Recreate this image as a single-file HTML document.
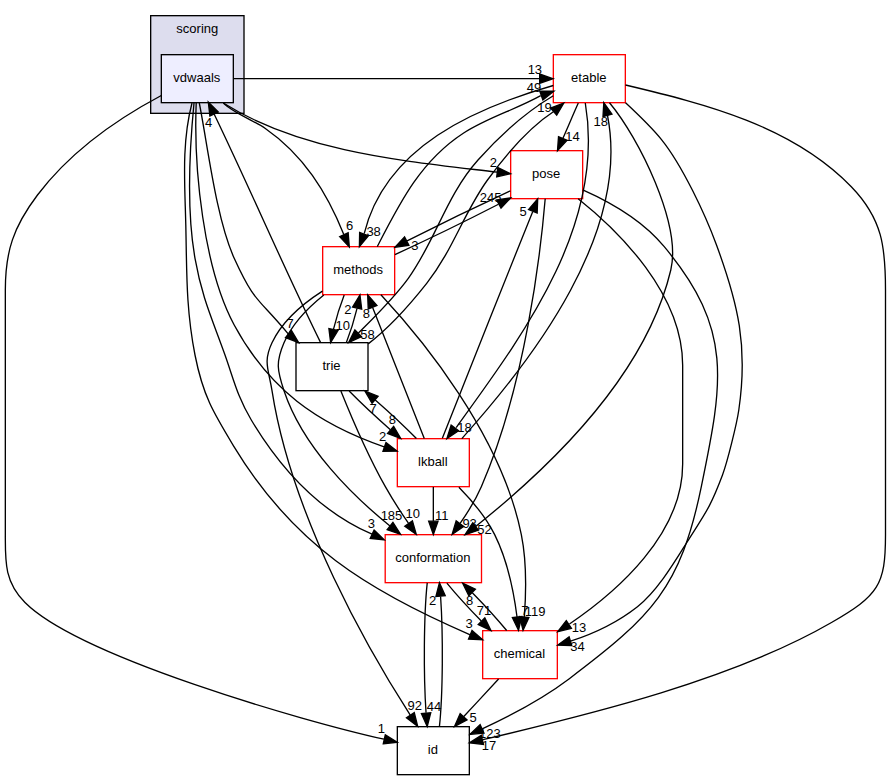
<!DOCTYPE html>
<html><head><meta charset="utf-8"><title>vdwaals</title>
<style>html,body{margin:0;padding:0;background:#fff}svg{display:block}text{font-family:"Liberation Sans",sans-serif;font-size:13px;fill:#000}</style></head>
<body>
<svg width="891" height="780" viewBox="0 0 891 780">
<rect width="891" height="780" fill="#fff"/>
<rect x="150.67" y="15.67" width="93.33" height="97.66" fill="#ddddee" stroke="#000" stroke-width="1.33"/>
<text x="197.33" y="33.00" text-anchor="middle">scoring</text>
<rect x="161.33" y="54.67" width="72.00" height="48.00" fill="#eeeeff" stroke="#000" stroke-width="1.33"/>
<text x="196.83" y="82.00" text-anchor="middle">vdwaals</text>
<rect x="385.20" y="534.67" width="96.30" height="48.00" fill="white" stroke="#f00" stroke-width="1.33"/>
<text x="432.85" y="562.00" text-anchor="middle">conformation</text>
<rect x="553.33" y="54.67" width="72.00" height="48.00" fill="white" stroke="#f00" stroke-width="1.33"/>
<text x="588.83" y="82.00" text-anchor="middle">etable</text>
<rect x="510.66" y="150.67" width="72.00" height="48.00" fill="white" stroke="#f00" stroke-width="1.33"/>
<text x="546.16" y="178.00" text-anchor="middle">pose</text>
<rect x="296.00" y="342.67" width="72.00" height="48.00" fill="#fff" stroke="#000" stroke-width="1.33"/>
<text x="331.50" y="370.00" text-anchor="middle">trie</text>
<rect x="482.67" y="630.67" width="74.66" height="48.00" fill="white" stroke="#f00" stroke-width="1.33"/>
<text x="519.50" y="658.00" text-anchor="middle">chemical</text>
<rect x="322.67" y="246.67" width="72.00" height="48.00" fill="white" stroke="#f00" stroke-width="1.33"/>
<text x="358.17" y="274.00" text-anchor="middle">methods</text>
<rect x="397.33" y="438.67" width="72.00" height="48.00" fill="white" stroke="#f00" stroke-width="1.33"/>
<text x="432.83" y="466.00" text-anchor="middle">lkball</text>
<rect x="397.33" y="726.67" width="72.00" height="48.00" fill="#fff" stroke="#000" stroke-width="1.33"/>
<text x="432.83" y="754.00" text-anchor="middle">id</text>
<path d="M194.00,103.00C189.35,150.87 186.60,210.81 195.00,258.30 202.02,297.95 212.11,318.74 225.00,355.00 233.80,379.75 237.40,396.82 251.30,420.00 280.03,467.91 319.84,511.72 372.00,534.23" fill="none" stroke="#000" stroke-width="1.33"/>
<polygon points="374.08,530.04 384.28,539.80 370.21,538.53" fill="#000" stroke="#000" stroke-width="1.33"/>
<text x="371.28" y="527.95" text-anchor="middle">3</text>
<path d="M233.40,78.67C330.00,78.67 440.00,78.67 539.70,78.67" fill="none" stroke="#000" stroke-width="1.33"/>
<polygon points="539.67,83.34 553.00,78.67 539.67,74.00" fill="#000" stroke="#000" stroke-width="1.33"/>
<text x="534.87" y="73.55" text-anchor="middle">13</text>
<path d="M223.30,103.00C302.58,152.67 406.83,161.26 497.20,172.20" fill="none" stroke="#000" stroke-width="1.33"/>
<polygon points="496.73,176.85 510.50,173.70 497.78,167.57" fill="#000" stroke="#000" stroke-width="1.33"/>
<text x="493.44" y="166.60" text-anchor="middle">2</text>
<path d="M199.30,103.00C207.85,146.57 216.30,218.99 234.20,258.30 254.89,303.75 257.77,297.17 288.20,333.90" fill="none" stroke="#000" stroke-width="1.33"/>
<polygon points="285.46,337.69 298.70,342.60 291.42,330.50" fill="#000" stroke="#000" stroke-width="1.33"/>
<text x="290.14" y="327.86" text-anchor="middle">7</text>
<path d="M192.00,103.00C181.40,143.74 184.88,183.86 185.80,225.00 186.85,271.96 185.89,308.67 195.00,355.00 202.98,395.58 213.15,412.27 234.13,446.87 293.17,544.25 367.49,590.60 470.27,634.77" fill="none" stroke="#000" stroke-width="1.33"/>
<polygon points="472.05,630.47 482.64,639.81 468.53,639.11" fill="#000" stroke="#000" stroke-width="1.33"/>
<text x="469.04" y="628.48" text-anchor="middle">3</text>
<path d="M223.30,103.00C232.96,112.67 254.01,120.66 265.00,128.30 303.47,155.04 326.57,191.93 343.80,234.50" fill="none" stroke="#000" stroke-width="1.33"/>
<polygon points="339.63,236.61 349.30,246.90 348.16,232.82" fill="#000" stroke="#000" stroke-width="1.33"/>
<text x="349.68" y="230.23" text-anchor="middle">6</text>
<path d="M196.20,103.00C193.59,167.56 203.37,267.74 234.20,325.00 268.69,389.06 316.97,423.60 384.16,446.80" fill="none" stroke="#000" stroke-width="1.33"/>
<polygon points="385.97,442.48 397.09,451.21 382.96,451.32" fill="#000" stroke="#000" stroke-width="1.33"/>
<text x="382.67" y="440.69" text-anchor="middle">2</text>
<path d="M161.30,95.50C114.50,120.35 69.76,152.34 37.50,195.00 13.47,226.77 5.33,251.28 5.33,290.00 5.33,371.67 5.33,453.33 5.33,535.00 5.33,561.67 4.44,581.94 25.00,602.50 79.42,656.92 302.47,720.97 383.90,739.20" fill="none" stroke="#000" stroke-width="1.33"/>
<polygon points="383.27,743.84 397.30,742.20 385.31,734.73" fill="#000" stroke="#000" stroke-width="1.33"/>
<text x="381.46" y="733.32" text-anchor="middle">1</text>
<path d="M446.87,583.07C456.29,594.48 469.03,608.45 481.29,620.93" fill="none" stroke="#000" stroke-width="1.33"/>
<polygon points="484.79,617.83 490.96,630.53 478.21,624.44" fill="#000" stroke="#000" stroke-width="1.33"/>
<text x="484.05" y="615.09" text-anchor="middle">71</text>
<path d="M427.23,582.84C423.81,615.11 423.43,674.39 426.05,712.81" fill="none" stroke="#000" stroke-width="1.33"/>
<polygon points="430.73,712.73 427.21,726.41 421.43,713.52" fill="#000" stroke="#000" stroke-width="1.33"/>
<text x="434.09" y="710.97" text-anchor="middle">44</text>
<path d="M609.50,102.70C638.74,137.66 681.68,224.28 670.80,270.00 646.33,372.78 555.77,462.46 475.68,526.44" fill="none" stroke="#000" stroke-width="1.33"/>
<polygon points="478.41,530.23 465.00,534.67 472.72,522.83" fill="#000" stroke="#000" stroke-width="1.33"/>
<text x="484.52" y="533.63" text-anchor="middle">52</text>
<path d="M578.30,103.00C573.00,114.80 568.04,126.69 562.80,138.50" fill="none" stroke="#000" stroke-width="1.33"/>
<polygon points="558.53,136.61 557.50,150.70 567.09,140.33" fill="#000" stroke="#000" stroke-width="1.33"/>
<text x="572.47" y="140.77" text-anchor="middle">14</text>
<path d="M553.30,95.80C526.07,111.98 498.43,137.14 478.00,160.00 446.14,195.64 435.51,240.69 408.30,278.30 393.79,298.35 375.78,315.57 358.40,333.07" fill="none" stroke="#000" stroke-width="1.33"/>
<polygon points="361.40,336.65 348.60,342.61 354.89,329.97" fill="#000" stroke="#000" stroke-width="1.33"/>
<text x="367.48" y="339.35" text-anchor="middle">58</text>
<path d="M625.50,102.70C638.09,114.46 650.67,126.18 661.50,139.60 682.04,165.05 705.19,214.27 716.50,245.00 738.32,304.28 748.11,346.55 738.80,410.00 736.78,423.76 727.46,461.80 722.50,475.00 709.51,509.59 704.65,513.87 686.50,543.00 673.35,564.10 656.75,591.54 637.45,606.75 617.49,622.48 594.60,633.38 570.57,641.20" fill="none" stroke="#000" stroke-width="1.33"/>
<polygon points="571.84,645.69 557.72,645.12 569.12,636.76" fill="#000" stroke="#000" stroke-width="1.33"/>
<text x="577.53" y="651.24" text-anchor="middle">34</text>
<path d="M553.30,85.50C475.38,107.99 385.66,146.43 364.20,233.60" fill="none" stroke="#000" stroke-width="1.33"/>
<polygon points="359.64,232.48 359.40,246.60 368.40,235.71" fill="#000" stroke="#000" stroke-width="1.33"/>
<text x="373.61" y="235.85" text-anchor="middle">38</text>
<path d="M585.30,103.00C605.78,225.16 523.50,334.44 456.19,427.52" fill="none" stroke="#000" stroke-width="1.33"/>
<polygon points="458.61,430.72 446.88,438.57 451.15,425.11" fill="#000" stroke="#000" stroke-width="1.33"/>
<text x="464.52" y="432.49" text-anchor="middle">18</text>
<path d="M625.50,85.00C705.28,103.99 792.20,125.72 851.30,186.70 882.56,218.96 885.50,247.24 885.50,290.00 885.50,371.67 885.50,453.33 885.50,535.00 885.50,585.17 878.38,595.36 831.50,622.50 732.96,679.55 591.74,713.90 482.90,739.70" fill="none" stroke="#000" stroke-width="1.33"/>
<polygon points="481.29,735.28 469.40,742.90 483.45,744.37" fill="#000" stroke="#000" stroke-width="1.33"/>
<text x="488.99" y="750.27" text-anchor="middle">17</text>
<path d="M545.20,198.80C540.74,251.55 525.55,385.20 481.33,486.67 475.79,499.39 467.89,512.24 460.11,523.43" fill="none" stroke="#000" stroke-width="1.33"/>
<polygon points="463.73,526.37 452.12,534.43 456.17,520.89" fill="#000" stroke="#000" stroke-width="1.33"/>
<text x="469.61" y="528.05" text-anchor="middle">93</text>
<path d="M578.17,198.71C618.42,230.81 682.67,293.67 682.67,365.33 682.67,365.33 682.67,365.33 682.67,464.00 682.67,534.31 617.32,591.55 569.47,624.04" fill="none" stroke="#000" stroke-width="1.33"/>
<polygon points="571.43,628.33 557.73,631.76 566.31,620.55" fill="#000" stroke="#000" stroke-width="1.33"/>
<text x="579.02" y="632.20" text-anchor="middle">13</text>
<path d="M510.30,190.79C481.17,204.23 439.53,224.40 407.09,240.95" fill="none" stroke="#000" stroke-width="1.33"/>
<polygon points="408.91,245.27 394.93,247.32 404.57,236.99" fill="#000" stroke="#000" stroke-width="1.33"/>
<text x="414.95" y="249.72" text-anchor="middle">3</text>
<path d="M582.76,189.77C608.89,201.39 642.77,220.36 664.24,246.67 733.23,329.49 723.13,380.93 701.33,486.67 680.43,588.09 651.99,616.28 569.33,678.67 542.56,698.87 509.19,716.31 482.20,728.81" fill="none" stroke="#000" stroke-width="1.33"/>
<polygon points="483.99,733.12 469.91,734.37 480.13,724.63" fill="#000" stroke="#000" stroke-width="1.33"/>
<text x="489.91" y="737.93" text-anchor="middle">123</text>
<path d="M320.50,342.40C283.43,266.92 250.55,189.72 214.10,114.00" fill="none" stroke="#000" stroke-width="1.33"/>
<polygon points="218.30,111.97 208.30,102.00 209.89,116.03" fill="#000" stroke="#000" stroke-width="1.33"/>
<text x="208.57" y="126.83" text-anchor="middle">4</text>
<path d="M340.89,390.88C350.67,415.20 367.37,454.52 385.33,486.67 392.20,498.96 400.59,511.87 408.41,523.23" fill="none" stroke="#000" stroke-width="1.33"/>
<polygon points="412.43,520.84 416.28,534.43 404.80,526.20" fill="#000" stroke="#000" stroke-width="1.33"/>
<text x="412.77" y="518.07" text-anchor="middle">10</text>
<path d="M368.19,343.87C388.49,328.19 410.72,303.55 426.70,283.30 453.47,249.38 463.40,213.34 487.50,180.00 506.23,154.09 527.25,128.68 554.40,111.00" fill="none" stroke="#000" stroke-width="1.33"/>
<polygon points="556.68,115.20 563.80,103.00 550.62,108.08" fill="#000" stroke="#000" stroke-width="1.33"/>
<text x="544.52" y="111.64" text-anchor="middle">19</text>
<path d="M346.37,342.53C350.37,332.28 354.23,319.93 357.05,308.44" fill="none" stroke="#000" stroke-width="1.33"/>
<polygon points="352.57,307.11 359.96,295.07 361.69,309.09" fill="#000" stroke="#000" stroke-width="1.33"/>
<text x="347.85" y="314.32" text-anchor="middle">2</text>
<path d="M349.16,391.07C360.60,402.71 375.89,417.01 390.37,429.67" fill="none" stroke="#000" stroke-width="1.33"/>
<polygon points="393.63,426.31 400.71,438.53 387.55,433.39" fill="#000" stroke="#000" stroke-width="1.33"/>
<text x="392.45" y="423.64" text-anchor="middle">8</text>
<path d="M506.68,630.53C497.31,619.15 484.60,605.19 472.32,592.69" fill="none" stroke="#000" stroke-width="1.33"/>
<polygon points="468.81,595.79 462.64,583.07 475.39,589.16" fill="#000" stroke="#000" stroke-width="1.33"/>
<text x="469.53" y="605.17" text-anchor="middle">8</text>
<path d="M498.57,679.07C488.08,690.37 475.25,704.19 463.77,716.56" fill="none" stroke="#000" stroke-width="1.33"/>
<polygon points="467.00,719.93 454.51,726.53 460.16,713.59" fill="#000" stroke="#000" stroke-width="1.33"/>
<text x="473.04" y="722.33" text-anchor="middle">5</text>
<path d="M323.84,294.91C308.56,307.08 292.25,323.48 284.00,342.67 275.56,362.27 277.25,370.43 284.00,390.67 302.89,447.36 353.00,496.09 389.99,525.97" fill="none" stroke="#000" stroke-width="1.33"/>
<polygon points="392.92,522.33 400.51,534.25 387.15,529.67" fill="#000" stroke="#000" stroke-width="1.33"/>
<text x="391.49" y="519.73" text-anchor="middle">185</text>
<path d="M377.30,246.60C399.93,202.59 420.71,161.06 463.30,133.30 487.43,117.57 515.56,109.72 540.70,95.70" fill="none" stroke="#000" stroke-width="1.33"/>
<polygon points="542.85,99.90 553.90,91.10 539.78,91.08" fill="#000" stroke="#000" stroke-width="1.33"/>
<text x="534.00" y="92.41" text-anchor="middle">49</text>
<path d="M394.97,254.57C424.44,241.11 466.25,220.84 498.48,204.27" fill="none" stroke="#000" stroke-width="1.33"/>
<polygon points="496.68,199.93 510.66,197.88 501.01,208.20" fill="#000" stroke="#000" stroke-width="1.33"/>
<text x="490.68" y="202.15" text-anchor="middle">245</text>
<path d="M344.19,295.07C340.19,305.36 336.36,317.72 333.53,329.19" fill="none" stroke="#000" stroke-width="1.33"/>
<polygon points="338.03,330.48 330.65,342.53 328.91,328.51" fill="#000" stroke="#000" stroke-width="1.33"/>
<text x="342.75" y="329.92" text-anchor="middle">10</text>
<path d="M380.92,294.77C420.59,337.44 501.24,434.21 521.33,534.67 526.77,561.89 526.12,593.35 524.28,617.03" fill="none" stroke="#000" stroke-width="1.33"/>
<polygon points="528.92,617.47 523.05,630.32 519.63,616.61" fill="#000" stroke="#000" stroke-width="1.33"/>
<text x="535.13" y="616.37" text-anchor="middle">119</text>
<path d="M322.44,291.07C303.65,303.11 282.49,320.57 272.00,342.67 262.85,361.93 268.72,369.59 272.00,390.67 291.91,518.43 370.65,653.44 410.28,715.05" fill="none" stroke="#000" stroke-width="1.33"/>
<polygon points="414.29,712.67 417.67,726.39 406.47,717.76" fill="#000" stroke="#000" stroke-width="1.33"/>
<text x="414.85" y="709.91" text-anchor="middle">92</text>
<path d="M433.33,487.07C433.33,497.36 433.33,509.72 433.33,521.19" fill="none" stroke="#000" stroke-width="1.33"/>
<polygon points="438.00,521.20 433.33,534.53 428.67,521.20" fill="#000" stroke="#000" stroke-width="1.33"/>
<text x="441.79" y="519.73" text-anchor="middle">11</text>
<path d="M461.83,438.57C534.55,357.67 630.42,231.60 607.50,115.50" fill="none" stroke="#000" stroke-width="1.33"/>
<polygon points="611.96,114.13 603.80,102.60 602.99,116.70" fill="#000" stroke="#000" stroke-width="1.33"/>
<text x="600.67" y="125.68" text-anchor="middle">18</text>
<path d="M442.35,438.36C461.85,388.69 508.66,271.04 532.68,211.63" fill="none" stroke="#000" stroke-width="1.33"/>
<polygon points="528.48,209.57 537.69,198.87 537.16,212.99" fill="#000" stroke="#000" stroke-width="1.33"/>
<text x="523.20" y="215.99" text-anchor="middle">5</text>
<path d="M416.43,438.53C405.05,426.93 389.77,412.64 375.28,399.96" fill="none" stroke="#000" stroke-width="1.33"/>
<polygon points="372.01,403.29 364.93,391.07 378.09,396.21" fill="#000" stroke="#000" stroke-width="1.33"/>
<text x="373.19" y="412.63" text-anchor="middle">7</text>
<path d="M458.88,487.24C471.48,500.05 485.83,516.93 494.67,534.67 507.56,560.51 513.91,592.71 517.03,617.04" fill="none" stroke="#000" stroke-width="1.33"/>
<polygon points="521.67,616.59 518.51,630.35 512.39,617.61" fill="#000" stroke="#000" stroke-width="1.33"/>
<text x="524.89" y="614.73" text-anchor="middle">7</text>
<path d="M424.29,438.41C411.44,405.81 387.76,345.77 372.64,307.41" fill="none" stroke="#000" stroke-width="1.33"/>
<polygon points="368.23,308.96 367.67,294.84 376.91,305.53" fill="#000" stroke="#000" stroke-width="1.33"/>
<text x="366.47" y="318.13" text-anchor="middle">8</text>
<path d="M439.45,726.41C442.87,694.11 443.24,634.81 440.60,596.43" fill="none" stroke="#000" stroke-width="1.33"/>
<polygon points="435.93,596.52 439.44,582.84 445.23,595.72" fill="#000" stroke="#000" stroke-width="1.33"/>
<text x="432.56" y="604.95" text-anchor="middle">2</text>
</svg>
</body></html>
